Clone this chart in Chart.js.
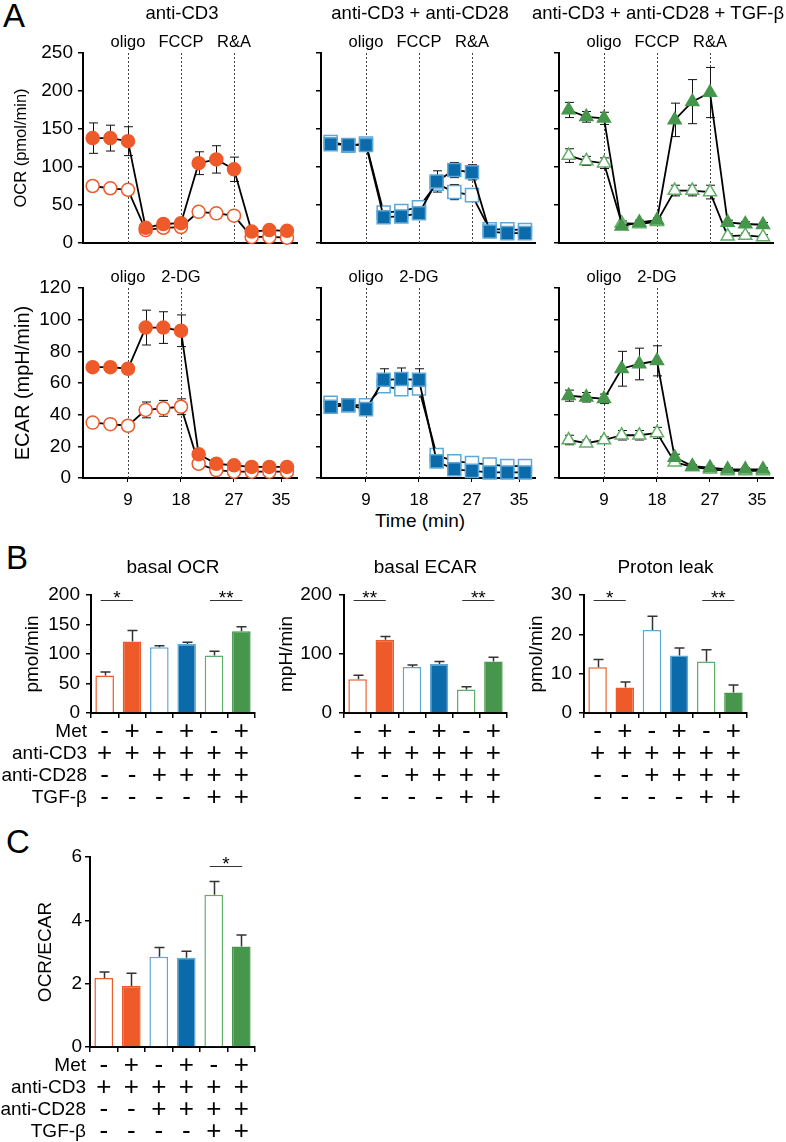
<!DOCTYPE html>
<html>
<head>
<meta charset="utf-8">
<script src="https://cdn.jsdelivr.net/npm/chart.js@4.4.1/dist/chart.umd.min.js"></script>
<style>
  body { margin: 0; background: #fff; }
  #page { position: relative; width: 786px; height: 1142px; overflow: hidden; background: #fff;
          font-family: "Liberation Sans", Arial, Helvetica, sans-serif; color: #000; }
  canvas { position: absolute; }
  .txt { position: absolute; white-space: nowrap; line-height: 1; }
</style>
</head>
<body>
<div id="page">
  <div class="txt" style="left:3px; top:-1px; font-size:33px;">A</div>
  <div class="txt" style="left:6px; top:541px; font-size:33px;">B</div>
  <div class="txt" style="left:6px; top:825px; font-size:33px;">C</div>
  <div class="txt" style="left:420px; top:511px; font-size:19px; transform:translateX(-50%);">Time (min)</div>
</div>
<script>
// ---- data: time courses (A) ----
const minutes = [3, 6, 9, 12, 15, 18, 21, 24, 27, 30, 33, 36];
const minuteTicks = [9, 18, 27, 35];
const groupTitles = ["anti-CD3", "anti-CD3 + anti-CD28", "anti-CD3 + anti-CD28 + TGF-β"];
const ocrInjections = [9, 18, 27];
const ocrInjectionNames = ["oligo", "FCCP", "R&A"];
const ecarInjections = [9, 18];
const ecarInjectionNames = ["oligo", "2-DG"];

// OCR (pmol/min); met = filled markers, ctl = open markers
const ocrCd3Met = [138, 138, 134, 20, 25, 26, 105, 110, 97, 15, 17, 16];
const ocrCd3MetSem = [20, 17, 19, 3, 3, 3, 15, 18, 16, 3, 3, 3];
const ocrCd3Ctl = [75, 72, 70, 17, 20, 21, 41, 39, 36, 8, 8, 7];
const ocrCd3CtlSem = [4, 3, 3, 3, 3, 3, 4, 4, 3, 2, 2, 2];
const ocrCd28Met = [130, 129, 129, 34, 35, 39, 81, 96, 93, 15, 13, 13];
const ocrCd28MetSem = [4, 4, 4, 3, 3, 3, 14, 10, 10, 3, 3, 3];
const ocrCd28Ctl = [133, 128, 131, 40, 42, 47, 78, 67, 63, 18, 18, 17];
const ocrCd28CtlSem = [4, 4, 4, 4, 4, 4, 8, 10, 7, 3, 3, 3];
const ocrTgfMet = [175, 166, 164, 22, 27, 30, 162, 186, 198, 27, 25, 24];
const ocrTgfMetSem = [10, 7, 8, 3, 3, 3, 22, 29, 33, 3, 3, 3];
const ocrTgfCtl = [115, 108, 105, 26, 25, 28, 69, 69, 67, 9, 10, 8];
const ocrTgfCtlSem = [9, 6, 7, 3, 3, 3, 7, 7, 9, 3, 3, 3];

// ECAR (mpH/min)
const ecarCd3Met = [70, 70, 69, 95, 95, 93, 15, 9, 8, 7, 7, 7];
const ecarCd3MetSem = [2, 2, 2, 11, 10, 10, 2, 1, 1, 1, 1, 1];
const ecarCd3Ctl = [35, 34, 33, 43, 44, 45, 9, 5, 4, 4, 4, 4];
const ecarCd3CtlSem = [2, 2, 2, 5, 5, 5, 1, 1, 1, 1, 1, 1];
const ecarCd28Met = [45, 46, 43.5, 62, 62.5, 62, 10.5, 5.5, 4.5, 3.5, 3.5, 3.5];
const ecarCd28MetSem = [2, 2, 2, 7, 7, 7, 2, 1, 1, 1, 1, 1];
const ecarCd28Ctl = [47.5, 46, 46, 58, 56, 56.5, 14.5, 10.5, 9.5, 8.5, 7.5, 7.5];
const ecarCd28CtlSem = [2, 2, 2, 3, 3, 3, 2, 1, 1, 1, 1, 1];
const ecarTgfMet = [52, 51, 50, 69, 72, 74, 13, 7.5, 6.5, 5.5, 5.5, 5.5];
const ecarTgfMetSem = [3.5, 3, 3, 11, 10, 9.5, 2, 1, 1, 1, 1, 1];
const ecarTgfCtl = [24, 22, 24, 27, 27, 28.5, 10, 7, 5.5, 4.5, 4.5, 4.5];
const ecarTgfCtlSem = [3, 2, 2, 3, 3, 3.5, 2, 1, 1, 1, 1, 1];

// ---- data: bar panels (B, C) ----
const rowNames = ["Met", "anti-CD3", "anti-CD28", "TGF-β"];
const metRow = ["-", "+", "-", "+", "-", "+"];
const cd3Row = ["+", "+", "+", "+", "+", "+"];
const cd28Row = ["-", "-", "+", "+", "+", "+"];
const tgfRow = ["-", "-", "-", "-", "+", "+"];

const basalOcr = [63.5, 121, 111.5, 117, 97.5, 138.5];
const basalOcrSem = [6, 19, 2.5, 3, 7, 7.5];
const basalEcar = [57, 124, 78, 83, 40, 87.5];
const basalEcarSem = [7, 5.5, 3.5, 4.5, 4.5, 7];
const protonLeak = [11.6, 6.5, 21.1, 14.6, 13.1, 5.2];
const protonLeakSem = [2, 1.4, 3.5, 1.9, 3, 1.9];
const ocrEcarRatio = [2.18, 1.93, 2.85, 2.82, 4.81, 3.17];
const ocrEcarRatioSem = [0.19, 0.4, 0.29, 0.2, 0.42, 0.37];

const basalOcrSig = [[0, 1, "*"], [4, 5, "**"]];
const basalEcarSig = [[0, 1, "**"], [4, 5, "**"]];
const protonLeakSig = [[0, 1, "*"], [4, 5, "**"]];
const ratioSig = [[4, 5, "*"]];

// ---- styling ----
const FONT = "'Liberation Sans', Arial, Helvetica, sans-serif";
const orange = "#EE5A29";
const blueDark = "#0B6AA9";
const blueLight = "#5EA8D8";
const green = "#46964B";
const greenLight = "#62AD67";

const groupStyles = [
  { shape: "circle", radius: 6.5, fill: orange, edge: orange, openEdge: orange },
  { shape: "rect", radius: 9.2, fill: blueDark, edge: blueLight, openEdge: blueLight },
  { shape: "triangle", radius: 7.5, fill: green, edge: green, openEdge: greenLight }
];
const barFills = ["#fff", orange, "#fff", blueDark, "#fff", green];
const barEdges = [orange, orange, blueLight, blueLight, greenLight, green];

Chart.defaults.font.family = FONT;
Chart.defaults.color = "#000";
Chart.defaults.animation = false;
Chart.defaults.events = [];
Chart.defaults.plugins.legend.display = false;
Chart.defaults.plugins.tooltip.enabled = false;

function makeCanvas(x, y, w, h) {
  const c = document.createElement("canvas");
  c.width = w;
  c.height = h;
  c.style.left = x + "px";
  c.style.top = y + "px";
  c.style.width = w + "px";
  c.style.height = h + "px";
  document.getElementById("page").appendChild(c);
  return c;
}

function drawErrorBars(chart, mode) {
  const ctx = chart.ctx;
  const yScale = chart.scales.y;
  chart.data.datasets.forEach((ds, i) => {
    if (!ds.errors || ds.errorMode !== mode) return;
    const meta = chart.getDatasetMeta(i);
    ctx.save();
    ctx.strokeStyle = mode === "up" ? "#333" : "#111";
    ctx.lineWidth = mode === "up" ? 1.5 : 1;
    const cap = mode === "up" ? 5 : 4.5;
    meta.data.forEach((el, j) => {
      const raw = ds.data[j];
      const value = typeof raw === "object" ? raw.y : raw;
      const err = ds.errors[j];
      const top = yScale.getPixelForValue(value + err);
      const bottom = mode === "both" ? yScale.getPixelForValue(value - err) : el.y;
      const x = Math.round(el.x) + 0.5;
      ctx.beginPath();
      ctx.moveTo(x, bottom);
      ctx.lineTo(x, top);
      ctx.moveTo(x - cap, top);
      ctx.lineTo(x + cap, top);
      if (mode === "both") {
        ctx.moveTo(x - cap, bottom);
        ctx.lineTo(x + cap, bottom);
      }
      ctx.stroke();
    });
    ctx.restore();
  });
}

function decor(cfg) {
  return {
    id: "decor",
    beforeDatasetsDraw(chart) {
      const { ctx, chartArea: a, scales } = chart;
      if (cfg.injections) {
        ctx.save();
        ctx.strokeStyle = "#444";
        ctx.lineWidth = 1;
        ctx.setLineDash([2, 2]);
        cfg.injections.forEach((t) => {
          const x = Math.round(scales.x.getPixelForValue(t)) + 0.5;
          ctx.beginPath();
          ctx.moveTo(x, a.bottom);
          ctx.lineTo(x, a.top);
          ctx.stroke();
        });
        ctx.restore();
      }
      drawErrorBars(chart, "both");
    },
    afterDatasetsDraw(chart) {
      drawErrorBars(chart, "up");
    },
    afterDraw(chart) {
      const { ctx, chartArea: a, scales } = chart;
      ctx.save();
      ctx.fillStyle = "#000";
      ctx.textAlign = "center";
      ctx.textBaseline = "middle";
      if (cfg.title) {
        ctx.font = `${cfg.titleSize || 19}px ${FONT}`;
        ctx.fillText(cfg.title, (a.left + a.right) / 2 + cfg.titleShift, a.top - cfg.titleRise);
      }
      if (cfg.names) {
        ctx.font = `16.5px ${FONT}`;
        cfg.names.forEach((n, i) => ctx.fillText(n, scales.x.getPixelForValue(cfg.injections[i]), a.top - 11));
      }
      if (cfg.sig) {
        const y = Math.round(scales.y.getPixelForValue(cfg.sigLevel)) + 0.5;
        ctx.strokeStyle = "#333";
        ctx.lineWidth = 1;
        ctx.font = `19px ${FONT}`;
        ctx.textBaseline = "alphabetic";
        cfg.sig.forEach(([i, j, stars]) => {
          const x1 = scales.x.getPixelForValue(i) - 4;
          const x2 = scales.x.getPixelForValue(j) + 1;
          ctx.beginPath();
          ctx.moveTo(x1, y);
          ctx.lineTo(x2, y);
          ctx.stroke();
          ctx.fillText(stars, (x1 + x2) / 2, y + 3);
        });
      }
      if (cfg.rowNames) {
        ctx.textAlign = "right";
        ctx.textBaseline = "middle";
        ctx.font = `19px ${FONT}`;
        const y0 = scales.x.top + 5 + 3 + 11;
        cfg.rowNames.forEach((n, k) => ctx.fillText(n, a.left - 4, y0 + k * 22));
      }
      ctx.restore();
    }
  };
}

// ---- A: time courses ----
const panelLefts = [83, 321, 559];
const areaWidth = 214;
const canvasWidth = 310;
const rows = {
  ocr: { canvasTop: 0, canvasHeight: 262, areaTop: 53, areaBottom: 243, yMax: 250, yStep: 50,
         yTitle: "OCR (pmol/min)", yTitleSize: 16.5, yTitlePad: 12, yTickPad: 5, showX: false,
         injections: ocrInjections, names: ocrInjectionNames, titles: true },
  ecar: { canvasTop: 250, canvasHeight: 280, areaTop: 288, areaBottom: 478, yMax: 120, yStep: 20,
          yTitle: "ECAR (mpH/min)", yTitleSize: 20, yTitlePad: 11, yTickPad: 7, showX: true,
          injections: ecarInjections, names: ecarInjectionNames, titles: false }
};

function timecourse(panel, rowKey, met, metSem, ctl, ctlSem) {
  const r = rows[rowKey];
  const st = groupStyles[panel];
  const left = panelLefts[panel];
  const canvas = makeCanvas(left - 83, r.canvasTop, canvasWidth, r.canvasHeight);
  const first = panel === 0;
  const series = (vals) => minutes.map((t, i) => ({ x: t, y: vals[i] }));
  const base = {
    borderColor: "#000", borderWidth: 1.8, pointStyle: st.shape, pointRadius: st.radius,
    pointBorderWidth: 1.5, clip: false, errorMode: "both"
  };
  return new Chart(canvas, {
    type: "line",
    data: {
      datasets: [
        Object.assign({}, base, { data: series(met), errors: metSem,
          pointBackgroundColor: st.fill, pointBorderColor: st.edge }),
        Object.assign({}, base, { data: series(ctl), errors: ctlSem,
          pointBackgroundColor: "#fff", pointBorderColor: st.openEdge })
      ]
    },
    options: {
      responsive: false,
      layout: { padding: { top: r.areaTop - r.canvasTop, right: canvasWidth - 83 - areaWidth, left: 0, bottom: 0 } },
      scales: {
        x: {
          type: "linear", min: 1.36, max: 37.7,
          afterBuildTicks: (s) => { s.ticks = minuteTicks.map((v) => ({ value: v })); },
          afterFit: (s) => { s.height = r.canvasTop + r.canvasHeight - r.areaBottom; },
          grid: { display: r.showX, drawOnChartArea: false, tickLength: 4, color: "#000", lineWidth: 1 },
          border: { display: true, color: "#000", width: 2 },
          ticks: { display: r.showX, padding: 8, font: { size: 17 } }
        },
        y: {
          min: 0, max: r.yMax,
          afterFit: (s) => { s.width = 83; },
          grid: { drawOnChartArea: false, tickLength: 5, color: "#000", lineWidth: 1.5 },
          border: { display: true, color: "#000", width: 2 },
          ticks: { display: first, stepSize: r.yStep, padding: r.yTickPad, font: { size: 19 } },
          title: { display: first, text: r.yTitle, font: { size: r.yTitleSize }, padding: { top: r.yTitlePad, bottom: 0 } }
        }
      }
    },
    plugins: [decor({
      injections: r.injections, names: r.names,
      title: r.titles ? groupTitles[panel] : null, titleSize: 18.5, titleShift: -8, titleRise: 39
    })]
  });
}

timecourse(0, "ocr", ocrCd3Met, ocrCd3MetSem, ocrCd3Ctl, ocrCd3CtlSem);
timecourse(1, "ocr", ocrCd28Met, ocrCd28MetSem, ocrCd28Ctl, ocrCd28CtlSem);
timecourse(2, "ocr", ocrTgfMet, ocrTgfMetSem, ocrTgfCtl, ocrTgfCtlSem);
timecourse(0, "ecar", ecarCd3Met, ecarCd3MetSem, ecarCd3Ctl, ecarCd3CtlSem);
timecourse(1, "ecar", ecarCd28Met, ecarCd28MetSem, ecarCd28Ctl, ecarCd28CtlSem);
timecourse(2, "ecar", ecarTgfMet, ecarTgfMetSem, ecarTgfCtl, ecarTgfCtlSem);

// ---- B, C: bar panels ----
const conditionLabels = metRow.map((m, i) => [m, cd3Row[i], cd28Row[i], tgfRow[i]]);

function barPanel(g) {
  const canvas = makeCanvas(g.x, g.y, g.w, g.h);
  return new Chart(canvas, {
    type: "bar",
    data: {
      labels: conditionLabels,
      datasets: [{
        data: g.values, errors: g.sem, errorMode: "up",
        backgroundColor: barFills, borderColor: barEdges, borderWidth: 1.5,
        barPercentage: 0.68, categoryPercentage: 1
      }]
    },
    options: {
      responsive: false,
      layout: { padding: { top: g.areaTop - g.y, right: g.x + g.w - g.areaRight, left: 0, bottom: 0 } },
      scales: {
        x: {
          type: "category", offset: true,
          afterFit: (s) => { s.height = g.y + g.h - g.areaBottom; },
          grid: { offset: true, drawOnChartArea: false, tickLength: 5, color: "#000", lineWidth: 1.5 },
          border: { display: true, color: "#000", width: 2 },
          ticks: { autoSkip: false, maxRotation: 0, padding: 3, font: { size: 26, lineHeight: "22px" } }
        },
        y: {
          min: 0, max: g.yMax,
          afterFit: (s) => { s.width = g.areaLeft - g.x; },
          grid: { drawOnChartArea: false, tickLength: 5, color: "#000", lineWidth: 1.5 },
          border: { display: true, color: "#000", width: 2 },
          ticks: { stepSize: g.yStep, padding: g.tickPad, font: { size: 19 } },
          title: { display: true, text: g.yTitle, font: { size: 19 }, padding: { top: g.titlePad, bottom: 0 } }
        }
      }
    },
    plugins: [decor({
      title: g.title, titleShift: 0, titleRise: 27,
      sig: g.sig, sigLevel: g.sigLevel, rowNames: g.rows
    })]
  });
}

barPanel({ x: 0, y: 540, w: 262, h: 275, areaLeft: 91, areaTop: 595, areaRight: 255, areaBottom: 713,
  values: basalOcr, sem: basalOcrSem, yMax: 200, yStep: 50, tickPad: 6, yTitle: "pmol/min", titlePad: 21,
  title: "basal OCR", sig: basalOcrSig, sigLevel: 191, rows: rowNames });
barPanel({ x: 270, y: 540, w: 245, h: 275, areaLeft: 344, areaTop: 595, areaRight: 507, areaBottom: 713,
  values: basalEcar, sem: basalEcarSem, yMax: 200, yStep: 100, tickPad: 7, yTitle: "mpH/min", titlePad: 5,
  title: "basal ECAR", sig: basalEcarSig, sigLevel: 191, rows: null });
barPanel({ x: 510, y: 540, w: 245, h: 275, areaLeft: 584, areaTop: 595, areaRight: 747, areaBottom: 713,
  values: protonLeak, sem: protonLeakSem, yMax: 30, yStep: 10, tickPad: 7, yTitle: "pmol/min", titlePad: 15,
  title: "Proton leak", sig: protonLeakSig, sigLevel: 28.7, rows: null });
barPanel({ x: 0, y: 800, w: 262, h: 342, areaLeft: 90, areaTop: 857, areaRight: 255, areaBottom: 1047,
  values: ocrEcarRatio, sem: ocrEcarRatioSem, yMax: 6, yStep: 2, tickPad: 3, yTitle: "OCR/ECAR", titlePad: 34,
  title: null, sig: ratioSig, sigLevel: 5.7, rows: rowNames });
</script>
</body>
</html>
